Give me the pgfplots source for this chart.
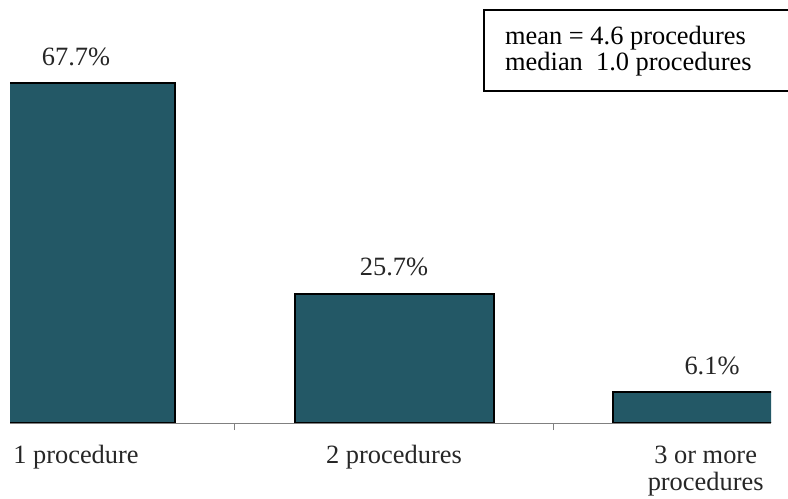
\documentclass[border=0pt]{standalone}
\usepackage{pgfplots}
\pgfplotsset{compat=1.18}
\usepackage{fontspec}
\setmainfont{Liberation Serif}
\definecolor{barfill}{HTML}{235866}
\newcommand{\lf}{\fontsize{26.5}{27}\selectfont}
\begin{document}
\begin{tikzpicture}
\begin{axis}[
  at={(10bp,76bp)}, anchor=south west,
  scale only axis, width=761bp, height=421.7bp,
  xmin=-0.2075, xmax=2.1855, ymin=0, ymax=84,
  clip mode=individual,
  axis x line*=bottom, axis y line=none,
  x axis line style={gray, line width=1bp, -},
  xtick={0.5,1.5}, xticklabels={}, major tick length=7bp, tick align=outside,
  xtick style={gray, line width=1bp},
  ytick=\empty,
  ybar, bar width=199bp, bar shift=0pt,
  /pgf/number format/assume math mode=true,
  nodes near coords={\pgfmathprintnumber[fixed,precision=1,fixed zerofill]{\pgfplotspointmeta}\%},
  nodes near coords style={font=\lf, anchor=base, yshift=18bp, text=black!85},
]
\addplot[fill=barfill, draw=black, line width=2bp] coordinates {(0,67.7) (1,25.7) (2,6.1)};
\node[font=\lf, anchor=base, text=black!85] at (axis cs:0,0) [yshift=-40bp] {1 procedure};
\node[font=\lf, anchor=base, text=black!85] at (axis cs:1,0) [yshift=-40bp] {2 procedures};
\node[font=\lf, anchor=base, align=center, text=black!85] at (axis cs:1.98,0) [yshift=-67bp] {3 or more\\procedures};
\end{axis}
\draw[line width=1.5bp] (484bp,408bp) rectangle (800bp,489bp);
\node[font=\lf, anchor=base west, inner sep=0pt] at (505bp,454bp) {mean = 4.6 procedures};
\node[font=\lf, anchor=base west, inner sep=0pt] at (505bp,428bp) {median\ \ 1.0 procedures};
\pgfresetboundingbox
\useasboundingbox (0,0) rectangle (788bp,499bp);
\end{tikzpicture}
\end{document}
